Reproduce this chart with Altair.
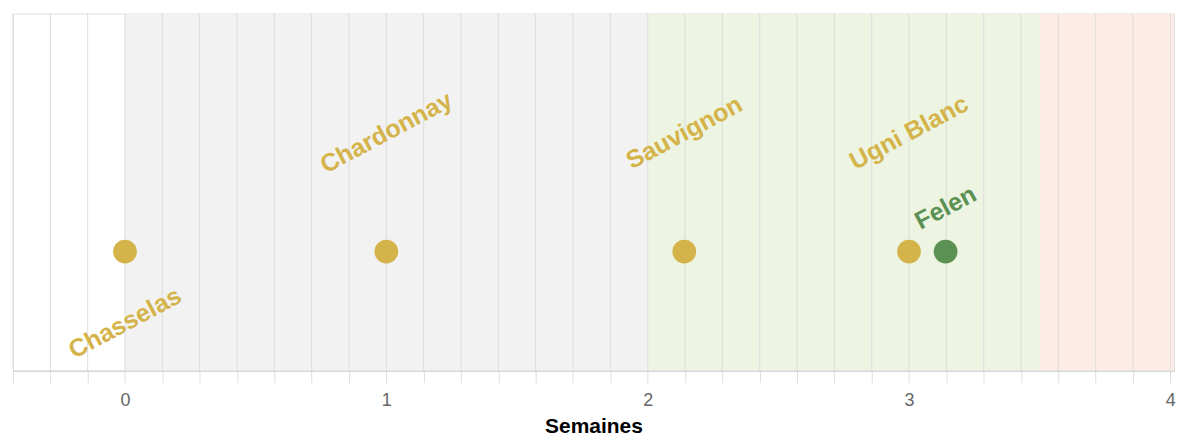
import altair as alt
import pandas as pd

# --- data ---
cepages = ["Chasselas", "Chardonnay", "Sauvignon", "Ugni Blanc", "Felen"]
semaines = [0.0, 1.0, 2.14, 3.0, 3.14]
couleurs = ["#D4B44A", "#D4B44A", "#D4B44A", "#D4B44A", "#5B9152"]
label_y = [-0.6, 1.0, 1.0, 1.0, 0.37]

zone_debut = [0.0, 2.0, 3.5]
zone_fin = [2.0, 3.5, 4.02]
zone_couleur = ["#F2F2F2", "#EDF4E2", "#FDECE6"]

x_min, x_max = -3 / 7, 4.014
jours = [k / 7 for k in range(-3, 29)]  # one grid line per day

points = pd.DataFrame({"cepage": cepages, "semaine": semaines,
                       "couleur": couleurs, "ly": label_y, "y": [0] * len(cepages)})
zones = pd.DataFrame({"debut": zone_debut, "fin": zone_fin, "couleur": zone_couleur})
grille = pd.DataFrame({"jour": jours})

x_scale = alt.Scale(domain=[x_min, x_max], nice=False, zero=False)
y_scale = alt.Scale(domain=[-1, 2], nice=False, zero=False)
x_axis = alt.Axis(
    values=jours,
    labelExpr="abs(datum.value - round(datum.value)) < 0.000001 ? format(datum.value, 'd') : ''",
    grid=False, labelOverlap=False, labelFlush=False,
    tickSize=12, tickColor="#DDDDDD", domainColor="#CCCCCC",
    labelFontSize=18, labelColor="#666666", labelPadding=9,
    title="Semaines", titleFontSize=21, titleFontWeight="bold", titleColor="#000000",
    titlePadding=6,
)

rects = alt.Chart(zones).mark_rect(clip=True).encode(
    x=alt.X("debut:Q", scale=x_scale, axis=x_axis),
    x2="fin:Q",
    color=alt.Color("couleur:N", scale=None),
)

rules = alt.Chart(grille).mark_rule(color="#DDDDDD", strokeWidth=1).encode(
    x=alt.X("jour:Q", scale=x_scale, axis=x_axis),
)

dots = alt.Chart(points).mark_circle(size=570, opacity=1).encode(
    x=alt.X("semaine:Q", scale=x_scale, axis=x_axis),
    y=alt.Y("y:Q", scale=y_scale, axis=None),
    color=alt.Color("couleur:N", scale=None),
)

labels = alt.Chart(points).mark_text(
    angle=332, fontSize=25, fontWeight="bold", align="center", baseline="middle",
).encode(
    x=alt.X("semaine:Q", scale=x_scale, axis=x_axis),
    y=alt.Y("ly:Q", scale=y_scale, axis=None),
    text="cepage:N",
    color=alt.Color("couleur:N", scale=None),
)

chart = alt.layer(rects, rules, dots, labels).properties(
    width=1164, height=358,
    padding={"left": 4, "top": 4, "right": 0, "bottom": 0},
    background="white",
).configure_view(stroke="#DDDDDD").configure(font="Liberation Sans")

chart.save("out.html", embed_options={"renderer": "svg", "actions": False})
